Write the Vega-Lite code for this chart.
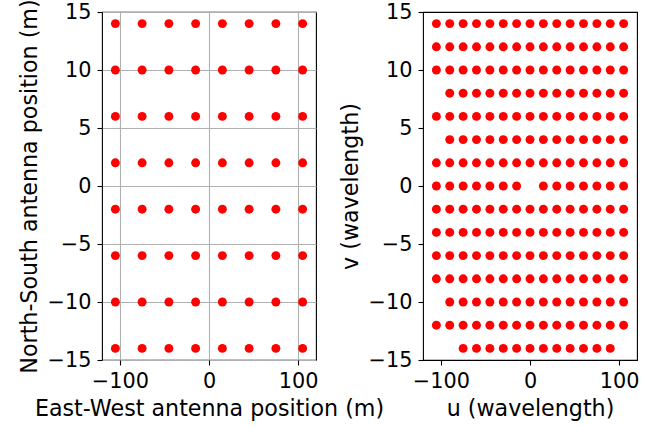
{
  "$schema": "https://vega.github.io/schema/vega-lite/v6.json",
  "padding": {"left": 17, "top": -2, "right": 5, "bottom": 5},
  "background": "white",
  "bounds": "flush",
  "spacing": 107,
  "config": {
    "view": {"stroke": "#000000", "strokeWidth": 1.1},
    "font": "DejaVu Sans",
    "axis": {
      "domain": false,
      "grid": false,
      "tickColor": "#000000",
      "tickWidth": 1.1,
      "tickSize": 5,
      "labelFont": "DejaVu Sans",
      "titleFont": "DejaVu Sans",
      "labelFontSize": 20.8,
      "titleFontSize": 22.2,
      "titleFontWeight": "normal",
      "labelColor": "#000000",
      "titleColor": "#000000",
      "labelFlush": false,
      "labelOverlap": false,
      "labelPadding": 6
    },
    "axisX": {"titlePadding": 7},
    "axisY": {"titlePadding": 6}
  },
  "datasets": {
    "ant": [
      {"x": -105, "y": 14}, {"x": -75, "y": 14}, {"x": -45, "y": 14}, {"x": -15, "y": 14}, {"x": 15, "y": 14}, {"x": 45, "y": 14}, {"x": 75, "y": 14}, {"x": 105, "y": 14},
      {"x": -105, "y": 10}, {"x": -75, "y": 10}, {"x": -45, "y": 10}, {"x": -15, "y": 10}, {"x": 15, "y": 10}, {"x": 45, "y": 10}, {"x": 75, "y": 10}, {"x": 105, "y": 10},
      {"x": -105, "y": 6}, {"x": -75, "y": 6}, {"x": -45, "y": 6}, {"x": -15, "y": 6}, {"x": 15, "y": 6}, {"x": 45, "y": 6}, {"x": 75, "y": 6}, {"x": 105, "y": 6},
      {"x": -105, "y": 2}, {"x": -75, "y": 2}, {"x": -45, "y": 2}, {"x": -15, "y": 2}, {"x": 15, "y": 2}, {"x": 45, "y": 2}, {"x": 75, "y": 2}, {"x": 105, "y": 2},
      {"x": -105, "y": -2}, {"x": -75, "y": -2}, {"x": -45, "y": -2}, {"x": -15, "y": -2}, {"x": 15, "y": -2}, {"x": 45, "y": -2}, {"x": 75, "y": -2}, {"x": 105, "y": -2},
      {"x": -105, "y": -6}, {"x": -75, "y": -6}, {"x": -45, "y": -6}, {"x": -15, "y": -6}, {"x": 15, "y": -6}, {"x": 45, "y": -6}, {"x": 75, "y": -6}, {"x": 105, "y": -6},
      {"x": -105, "y": -10}, {"x": -75, "y": -10}, {"x": -45, "y": -10}, {"x": -15, "y": -10}, {"x": 15, "y": -10}, {"x": 45, "y": -10}, {"x": 75, "y": -10}, {"x": 105, "y": -10},
      {"x": -105, "y": -14}, {"x": -75, "y": -14}, {"x": -45, "y": -14}, {"x": -15, "y": -14}, {"x": 15, "y": -14}, {"x": 45, "y": -14}, {"x": 75, "y": -14}, {"x": 105, "y": -14}
    ],
    "uv": [
      {"u": -105, "v": 14}, {"u": -90, "v": 14}, {"u": -75, "v": 14}, {"u": -60, "v": 14}, {"u": -45, "v": 14}, {"u": -30, "v": 14}, {"u": -15, "v": 14}, {"u": 0, "v": 14}, {"u": 15, "v": 14}, {"u": 30, "v": 14}, {"u": 45, "v": 14}, {"u": 60, "v": 14}, {"u": 75, "v": 14}, {"u": 90, "v": 14}, {"u": 105, "v": 14},
      {"u": -105, "v": 12}, {"u": -90, "v": 12}, {"u": -75, "v": 12}, {"u": -60, "v": 12}, {"u": -45, "v": 12}, {"u": -30, "v": 12}, {"u": -15, "v": 12}, {"u": 0, "v": 12}, {"u": 15, "v": 12}, {"u": 30, "v": 12}, {"u": 45, "v": 12}, {"u": 60, "v": 12}, {"u": 75, "v": 12}, {"u": 90, "v": 12}, {"u": 105, "v": 12},
      {"u": -105, "v": 10}, {"u": -90, "v": 10}, {"u": -75, "v": 10}, {"u": -60, "v": 10}, {"u": -45, "v": 10}, {"u": -30, "v": 10}, {"u": -15, "v": 10}, {"u": 0, "v": 10}, {"u": 15, "v": 10}, {"u": 30, "v": 10}, {"u": 45, "v": 10}, {"u": 60, "v": 10}, {"u": 75, "v": 10}, {"u": 90, "v": 10}, {"u": 105, "v": 10},
      {"u": -90, "v": 8}, {"u": -75, "v": 8}, {"u": -60, "v": 8}, {"u": -45, "v": 8}, {"u": -30, "v": 8}, {"u": -15, "v": 8}, {"u": 0, "v": 8}, {"u": 15, "v": 8}, {"u": 30, "v": 8}, {"u": 45, "v": 8}, {"u": 60, "v": 8}, {"u": 75, "v": 8}, {"u": 90, "v": 8}, {"u": 105, "v": 8},
      {"u": -105, "v": 6}, {"u": -90, "v": 6}, {"u": -75, "v": 6}, {"u": -60, "v": 6}, {"u": -45, "v": 6}, {"u": -30, "v": 6}, {"u": -15, "v": 6}, {"u": 0, "v": 6}, {"u": 15, "v": 6}, {"u": 30, "v": 6}, {"u": 45, "v": 6}, {"u": 60, "v": 6}, {"u": 75, "v": 6}, {"u": 90, "v": 6}, {"u": 105, "v": 6},
      {"u": -90, "v": 4}, {"u": -75, "v": 4}, {"u": -60, "v": 4}, {"u": -45, "v": 4}, {"u": -30, "v": 4}, {"u": -15, "v": 4}, {"u": 0, "v": 4}, {"u": 15, "v": 4}, {"u": 30, "v": 4}, {"u": 45, "v": 4}, {"u": 60, "v": 4}, {"u": 75, "v": 4}, {"u": 90, "v": 4}, {"u": 105, "v": 4},
      {"u": -105, "v": 2}, {"u": -90, "v": 2}, {"u": -75, "v": 2}, {"u": -60, "v": 2}, {"u": -45, "v": 2}, {"u": -30, "v": 2}, {"u": -15, "v": 2}, {"u": 0, "v": 2}, {"u": 15, "v": 2}, {"u": 30, "v": 2}, {"u": 45, "v": 2}, {"u": 60, "v": 2}, {"u": 75, "v": 2}, {"u": 90, "v": 2}, {"u": 105, "v": 2},
      {"u": -105, "v": 0}, {"u": -90, "v": 0}, {"u": -75, "v": 0}, {"u": -60, "v": 0}, {"u": -45, "v": 0}, {"u": -30, "v": 0}, {"u": -15, "v": 0}, {"u": 15, "v": 0}, {"u": 30, "v": 0}, {"u": 45, "v": 0}, {"u": 60, "v": 0}, {"u": 75, "v": 0}, {"u": 90, "v": 0}, {"u": 105, "v": 0},
      {"u": -105, "v": -2}, {"u": -90, "v": -2}, {"u": -75, "v": -2}, {"u": -60, "v": -2}, {"u": -45, "v": -2}, {"u": -30, "v": -2}, {"u": -15, "v": -2}, {"u": 0, "v": -2}, {"u": 15, "v": -2}, {"u": 30, "v": -2}, {"u": 45, "v": -2}, {"u": 60, "v": -2}, {"u": 75, "v": -2}, {"u": 90, "v": -2}, {"u": 105, "v": -2},
      {"u": -105, "v": -4}, {"u": -90, "v": -4}, {"u": -75, "v": -4}, {"u": -60, "v": -4}, {"u": -45, "v": -4}, {"u": -30, "v": -4}, {"u": -15, "v": -4}, {"u": 0, "v": -4}, {"u": 15, "v": -4}, {"u": 30, "v": -4}, {"u": 45, "v": -4}, {"u": 60, "v": -4}, {"u": 75, "v": -4}, {"u": 90, "v": -4}, {"u": 105, "v": -4},
      {"u": -105, "v": -6}, {"u": -90, "v": -6}, {"u": -75, "v": -6}, {"u": -60, "v": -6}, {"u": -45, "v": -6}, {"u": -30, "v": -6}, {"u": -15, "v": -6}, {"u": 0, "v": -6}, {"u": 15, "v": -6}, {"u": 30, "v": -6}, {"u": 45, "v": -6}, {"u": 60, "v": -6}, {"u": 75, "v": -6}, {"u": 90, "v": -6}, {"u": 105, "v": -6},
      {"u": -105, "v": -8}, {"u": -90, "v": -8}, {"u": -75, "v": -8}, {"u": -60, "v": -8}, {"u": -45, "v": -8}, {"u": -30, "v": -8}, {"u": -15, "v": -8}, {"u": 0, "v": -8}, {"u": 15, "v": -8}, {"u": 30, "v": -8}, {"u": 45, "v": -8}, {"u": 60, "v": -8}, {"u": 75, "v": -8}, {"u": 90, "v": -8}, {"u": 105, "v": -8},
      {"u": -90, "v": -10}, {"u": -75, "v": -10}, {"u": -60, "v": -10}, {"u": -45, "v": -10}, {"u": -30, "v": -10}, {"u": -15, "v": -10}, {"u": 0, "v": -10}, {"u": 15, "v": -10}, {"u": 30, "v": -10}, {"u": 45, "v": -10}, {"u": 60, "v": -10}, {"u": 75, "v": -10}, {"u": 90, "v": -10}, {"u": 105, "v": -10},
      {"u": -105, "v": -12}, {"u": -90, "v": -12}, {"u": -75, "v": -12}, {"u": -60, "v": -12}, {"u": -45, "v": -12}, {"u": -30, "v": -12}, {"u": -15, "v": -12}, {"u": 0, "v": -12}, {"u": 15, "v": -12}, {"u": 30, "v": -12}, {"u": 45, "v": -12}, {"u": 60, "v": -12}, {"u": 75, "v": -12}, {"u": 90, "v": -12}, {"u": 105, "v": -12},
      {"u": -75, "v": -14}, {"u": -60, "v": -14}, {"u": -45, "v": -14}, {"u": -30, "v": -14}, {"u": -15, "v": -14}, {"u": 0, "v": -14}, {"u": 15, "v": -14}, {"u": 30, "v": -14}, {"u": 45, "v": -14}, {"u": 60, "v": -14}, {"u": 75, "v": -14}, {"u": 90, "v": -14}
    ]
  },
  "hconcat": [
    {
      "width": 214,
      "height": 348,
      "data": {"name": "ant"},
      "mark": {"type": "point", "filled": true, "shape": "circle", "size": 80, "color": "#ff0000", "opacity": 1},
      "encoding": {
        "x": {
          "field": "x", "type": "quantitative",
          "scale": {"domain": [-120, 120], "nice": false, "zero": false},
          "axis": {"values": [-100, 0, 100], "title": "East-West antenna position (m)", "grid": true, "gridColor": "#b0b0b0", "gridWidth": 1.1}
        },
        "y": {
          "field": "y", "type": "quantitative",
          "scale": {"domain": [-15, 15], "nice": false, "zero": false},
          "axis": {"values": [-15, -10, -5, 0, 5, 10, 15], "title": "North-South antenna position (m)", "grid": true, "gridColor": "#b0b0b0", "gridWidth": 1.1}
        }
      }
    },
    {
      "width": 214,
      "height": 348,
      "data": {"name": "uv"},
      "mark": {"type": "point", "filled": true, "shape": "circle", "size": 80, "color": "#ff0000", "opacity": 1},
      "encoding": {
        "x": {
          "field": "u", "type": "quantitative",
          "scale": {"domain": [-120, 120], "nice": false, "zero": false},
          "axis": {"values": [-100, 0, 100], "title": "u (wavelength)"}
        },
        "y": {
          "field": "v", "type": "quantitative",
          "scale": {"domain": [-15, 15], "nice": false, "zero": false},
          "axis": {"values": [-15, -10, -5, 0, 5, 10, 15], "title": "v (wavelength)"}
        }
      }
    }
  ]
}
